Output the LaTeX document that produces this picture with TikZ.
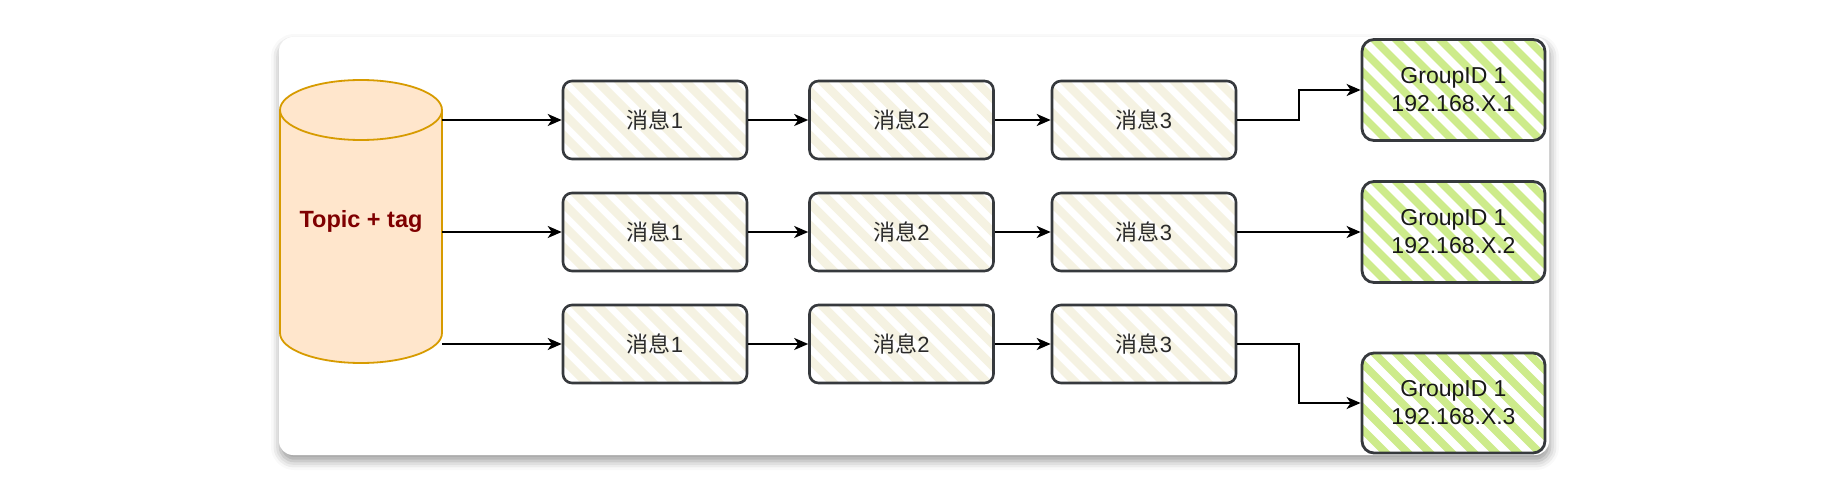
\documentclass[tikz,border=0pt]{standalone}
\usepackage{fontspec}
\setmainfont{Liberation Sans}
\newfontfamily\cjkfont{Noto Sans CJK SC}
\usetikzlibrary{arrows.meta,shadows.blur,calc}
\definecolor{cylfill}{HTML}{FFE6CC}
\definecolor{cyldraw}{HTML}{D79B00}
\definecolor{topictext}{HTML}{7F0000}
\definecolor{boxstroke}{HTML}{36393D}
\definecolor{beigeh}{HTML}{F5F2E2}
\definecolor{greenh}{HTML}{CDEB8B}
\definecolor{msgtext}{HTML}{2B2B2B}
\tikzset{
  hatchfill/.style 2 args={path picture={%
    \foreach \k in {0,...,16}{%
      \draw[line width=#2, draw=#1, line cap=butt]
        ([xshift=\k*22pt-125pt, yshift=5pt]path picture bounding box.north west) -- ++(135,-135);}}},
  msgbox/.style={draw=boxstroke, line width=2.6pt, rounded corners=9pt, fill=white,
    hatchfill={beigeh}{8.5pt}, minimum width=184pt, minimum height=78pt, inner sep=0pt,
    text=msgtext, font=\fontsize{22}{26}\selectfont},
  grpbox/.style={draw=boxstroke, line width=2.8pt, rounded corners=12pt, fill=white,
    hatchfill={greenh}{7.5pt}, minimum width=183pt, minimum height=101pt, inner sep=0pt,
    align=center, text=black!90, font=\fontsize{23}{28}\selectfont},
  arr/.style={draw=black, line width=2pt, -{Stealth[length=14pt,width=12pt,inset=4pt]}},
  cylstyle/.style={fill=cylfill, draw=cyldraw, line width=1.8pt},
}
\begin{document}
\begin{tikzpicture}[x=1pt,y=1pt]
\useasboundingbox (0,0) rectangle (1840,-478);
% card
\path[fill=white, rounded corners=14pt,
  blur shadow={shadow xshift=1pt, shadow yshift=-6pt, shadow blur radius=9pt, shadow opacity=40}]
  (279,-37) rectangle (1549,-455);
% cylinder
\path[cylstyle] (280,-110) -- (280,-333)
  arc[start angle=180, end angle=360, x radius=81pt, y radius=30pt] -- (442,-110)
  arc[start angle=0, end angle=180, x radius=81pt, y radius=30pt] -- cycle;
\draw[cyldraw, line width=1.8pt] (280,-110) arc[start angle=180, end angle=360, x radius=81pt, y radius=30pt];
\node[minimum width=162pt, minimum height=283pt, inner sep=0pt, text=topictext,
  font=\fontsize{23.5}{28}\selectfont\bfseries] (topic) at (361,-221.5) {Topic + tag};
% message boxes
\node[msgbox] (b11) at (655,-120) {{\cjkfont 消息}1};
\node[msgbox] (b12) at (901.5,-120) {{\cjkfont 消息}2};
\node[msgbox] (b13) at (1144,-120) {{\cjkfont 消息}3};
\node[msgbox] (b21) at (655,-232) {{\cjkfont 消息}1};
\node[msgbox] (b22) at (901.5,-232) {{\cjkfont 消息}2};
\node[msgbox] (b23) at (1144,-232) {{\cjkfont 消息}3};
\node[msgbox] (b31) at (655,-344) {{\cjkfont 消息}1};
\node[msgbox] (b32) at (901.5,-344) {{\cjkfont 消息}2};
\node[msgbox] (b33) at (1144,-344) {{\cjkfont 消息}3};
% group boxes
\node[grpbox] (g1) at (1453.5,-90) {GroupID 1\\192.168.X.1};
\node[grpbox] (g2) at (1453.5,-232) {GroupID 1\\192.168.X.2};
\node[grpbox, minimum height=100pt] (g3) at (1453.5,-403) {GroupID 1\\192.168.X.3};
% connectors
\draw[arr] (b11.west -| topic.east) -- (b11.west);
\draw[arr] (b21.west -| topic.east) -- (b21.west);
\draw[arr] (b31.west -| topic.east) -- (b31.west);
\draw[arr] (b11) -- (b12);
\draw[arr] (b12) -- (b13);
\draw[arr] (b21) -- (b22);
\draw[arr] (b22) -- (b23);
\draw[arr] (b31) -- (b32);
\draw[arr] (b32) -- (b33);
\draw[arr] (b13.east) -- ++(62,0) |- (g1.west);
\draw[arr] (b23) -- (g2);
\draw[arr] (b33.east) -- ++(62,0) |- (g3.west);
\end{tikzpicture}
\end{document}
